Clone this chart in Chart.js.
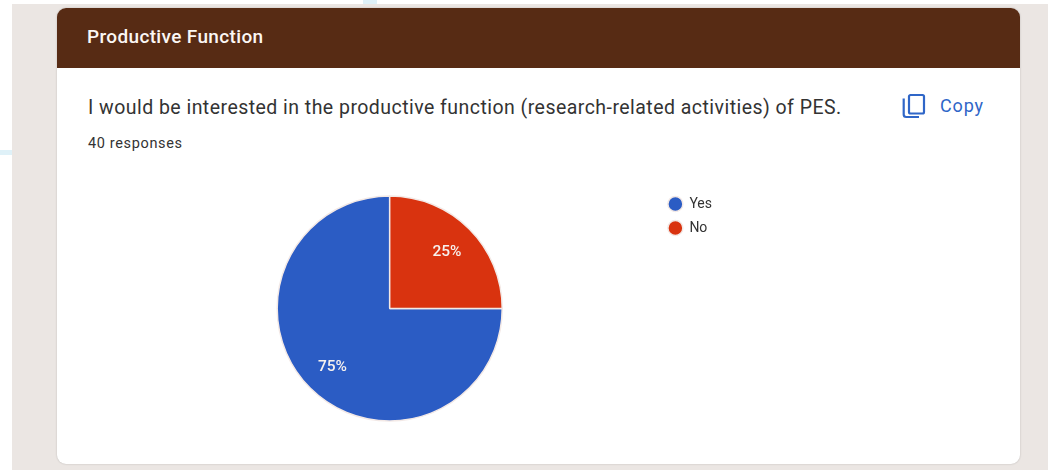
<!DOCTYPE html>
<html>
<head>
<meta charset="utf-8">
<title>Productive Function</title>
<script src="https://cdn.jsdelivr.net/npm/chart.js@4"></script>
<style>
    html, body { margin: 0; padding: 0; background: #fff; }
    body { position: relative; width: 1052px; height: 470px; overflow: hidden; font-family: Roboto, sans-serif; }
    .page { position: absolute; left: 12px; top: 4px; width: 1036px; height: 466px; background: #ebe6e3; }
    .mark-top { position: absolute; left: 363px; top: 0; width: 14px; height: 4px; background: #dff1f8; }
    .mark-left { position: absolute; left: 0; top: 150px; width: 12px; height: 5px; background: #dff1f8; }
    .card { position: absolute; left: 57px; top: 8px; width: 963px; height: 456px; background: #fff; border-radius: 9px; box-shadow: 0 0 2px rgba(0,0,0,.22); overflow: hidden; }
    .card-head { height: 60px; background: #572b14; color: #fbf7f4; font-size: 19px; font-weight: 500; line-height: 58px; padding-left: 30px; letter-spacing: .35px; }
    .question { position: absolute; left: 31px; top: 88px; font-size: 19.5px; color: #333; letter-spacing: .46px; white-space: nowrap; line-height: 24px; }
    .count { position: absolute; left: 31px; top: 126px; font-size: 14.5px; color: #333; letter-spacing: .65px; line-height: 20px; }
    .copy { position: absolute; left: 883px; top: 86px; font-size: 18px; color: #2f66c8; line-height: 24px; letter-spacing: .85px; }
    .copy-icon { position: absolute; left: 845px; top: 85px; width: 24px; height: 26px; }
    #pie { position: absolute; left: 121px; top: 187px; }
</style>
</head>
<body>
<div class="mark-top"></div>
<div class="mark-left"></div>
<div class="page"></div>
<div class="card">
    <div class="card-head">Productive Function</div>
    <div class="question">I would be interested in the productive function (research-related activities) of PES.</div>
    <div class="count">40 responses</div>
    <svg class="copy-icon" viewBox="0 0 24 26" fill="none" stroke="#2f66c8" stroke-width="2.2">
        <rect x="7" y="2" width="15" height="18.5" rx="1.5"></rect>
        <path d="M1.7 5.5V21.5a2.5 2.5 0 0 0 2.5 2.5H17"></path>
    </svg>
    <div class="copy">Copy</div>
</div>
<canvas id="pie" width="601" height="243"></canvas>

<script>
// ===========================
// Chart data
// ===========================

const categories = ['Yes', 'No'];
const shares = [75, 25];
const sliceColors = ['#2b5cc4', '#d9330f'];

// Percent labels inside the slices
const sliceLabels = {
    id: 'sliceLabels',
    afterDatasetsDraw(chart) {
        const { ctx } = chart;
        chart.getDatasetMeta(0).data.forEach((arc, i) => {
            const { x, y, startAngle, endAngle, outerRadius } = arc.getProps(['x', 'y', 'startAngle', 'endAngle', 'outerRadius'], true);
            const mid = (startAngle + endAngle) / 2;
            const r = outerRadius * 0.72;
            ctx.save();
            ctx.fillStyle = '#f6f1ee';
            ctx.font = '500 15.5px Roboto, sans-serif';
            ctx.textAlign = 'center';
            ctx.textBaseline = 'middle';
            ctx.fillText(shares[i] + '%', x + Math.cos(mid) * r, y + 1 + Math.sin(mid) * r);
            ctx.restore();
        });
    }
};

new Chart(document.getElementById('pie'), {
    type: 'pie',
    data: {
        labels: categories,
        datasets: [{
            data: shares,
            backgroundColor: sliceColors,
            borderColor: '#f3e9e6',
            borderWidth: 1.5,
            hoverOffset: 0
        }]
    },
    options: {
        responsive: false,
        animation: false,
        rotation: 90,
        radius: 112.5,
        plugins: {
            tooltip: { enabled: false },
            legend: {
                position: 'right',
                align: 'start',
                labels: {
                    usePointStyle: true,
                    pointStyle: 'circle',
                    boxWidth: 14,
                    boxHeight: 10.6,
                    padding: 10,
                    color: '#333',
                    font: { family: 'Roboto, sans-serif', size: 14 }
                }
            }
        }
    },
    plugins: [sliceLabels]
});
</script>
</body>
</html>
